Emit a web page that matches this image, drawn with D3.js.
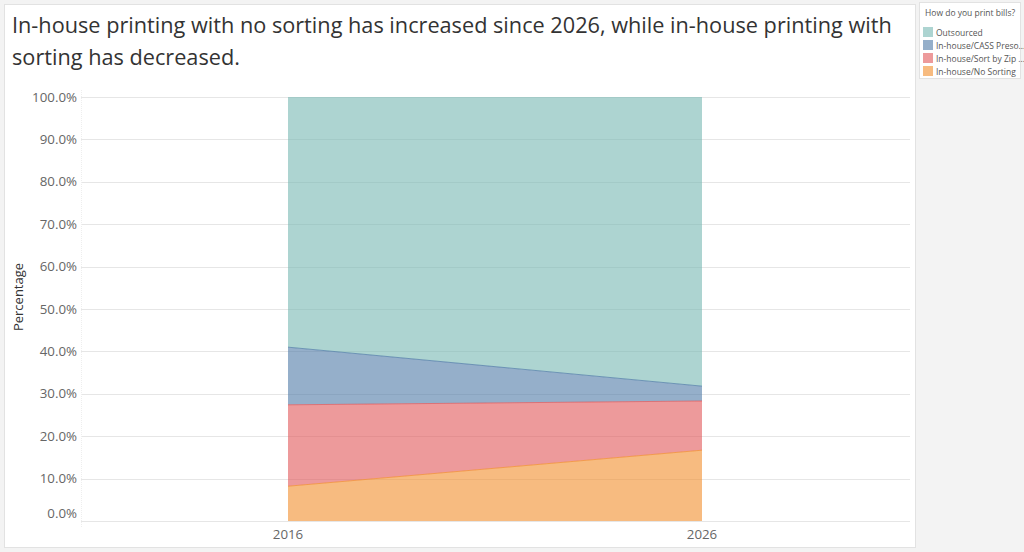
<!DOCTYPE html>
<html>
<head>
<meta charset="utf-8">
<script src="https://cdn.jsdelivr.net/npm/d3@7"></script>
<style>
  body { margin: 0; background: #f3f3f3; }
  svg { display: block; }
</style>
</head>
<body>
<div id="chart"></div>
<script>
// size of the page
var width = 1024
var height = 552

// data (percent of respondents)
var years = ["2016", "2026"]
var categories = ["In-house/No Sorting", "In-house/Sort by Zip Code", "In-house/CASS Presort", "Outsourced"]
var legendLabels = ["Outsourced", "In-house/CASS Preso...", "In-house/Sort by Zip ...", "In-house/No Sorting"]
var noSorting = [8.2, 16.7]
var sortByZip = [19.2, 11.6]
var cassPresort = [13.6, 3.5]
var outsourced = [59.0, 68.2]
var yTicks = [0, 10, 20, 30, 40, 50, 60, 70, 80, 90, 100]

var colors = {
  "Outsourced": "#76b7b2",
  "In-house/CASS Presort": "#4e79a7",
  "In-house/Sort by Zip Code": "#e15759",
  "In-house/No Sorting": "#f28e2b"
}

// build rows for the stack
var rows = years.map(function(y, i) {
  return {
    year: y,
    "In-house/No Sorting": noSorting[i],
    "In-house/Sort by Zip Code": sortByZip[i],
    "In-house/CASS Presort": cassPresort[i],
    "Outsourced": outsourced[i]
  }
})

var svg = d3.select("#chart")
  .append("svg")
  .attr("width", width)
  .attr("height", height)

// white panel for the sheet
svg.append("rect")
  .attr("x", 4.5).attr("y", 4.5)
  .attr("width", 911).attr("height", 543)
  .attr("fill", "#fff")
  .attr("stroke", "#e2e2e2")

// title
var font = "'Open Sans', sans-serif"
svg.append("text")
  .attr("x", 12).attr("y", 33)
  .text("In-house printing with no sorting has increased since 2026, while in-house printing with")
  .attr("font-family", font)
  .attr("font-size", "21.7px")
  .attr("fill", "#333")
svg.append("text")
  .attr("x", 12).attr("y", 65)
  .text("sorting has decreased.")
  .attr("font-family", font)
  .attr("font-size", "21.7px")
  .attr("fill", "#333")

// scales
var x = d3.scalePoint()
  .domain(years)
  .range([81, 909])
  .padding(0.5)

var y = d3.scaleLinear()
  .domain([0, 100])
  .range([521, 97])

// gridlines
svg.append("g")
  .selectAll("line")
  .data(yTicks)
  .enter()
  .append("line")
  .attr("x1", 81).attr("x2", 910)
  .attr("y1", function(d) { return Math.round(y(d)) + 0.5 })
  .attr("y2", function(d) { return Math.round(y(d)) + 0.5 })
  .attr("stroke", "#e6e6e6")

// y axis line (dotted, faint)
svg.append("line")
  .attr("x1", 81.5).attr("x2", 81.5)
  .attr("y1", 90).attr("y2", 528)
  .attr("stroke", "#eee")
  .attr("stroke-dasharray", "1,1")

// y tick labels
svg.append("g")
  .selectAll("text")
  .data(yTicks)
  .enter()
  .append("text")
  .attr("x", 77)
  .attr("y", function(d) { return d == 0 ? y(d) - 8 : y(d) })
  .attr("dy", "0.35em")
  .attr("text-anchor", "end")
  .text(function(d) { return d.toFixed(1) + "%" })
  .attr("font-family", font)
  .attr("font-size", "13.3px")
  .attr("fill", "#666")

// y axis title
svg.append("text")
  .attr("transform", "translate(23,297) rotate(-90)")
  .attr("text-anchor", "middle")
  .text("Percentage")
  .attr("font-family", font)
  .attr("font-size", "13px")
  .attr("fill", "#333")

// stacked areas
var stack = d3.stack().keys(categories)
var series = stack(rows)

var area = d3.area()
  .x(function(d) { return x(d.data.year) })
  .y0(function(d) { return y(d[0]) })
  .y1(function(d) { return y(d[1]) })

var line = d3.line()
  .x(function(d) { return x(d.data.year) })
  .y(function(d) { return y(d[1]) })

svg.append("g")
  .selectAll("path")
  .data(series)
  .enter()
  .append("path")
  .attr("d", area)
  .attr("fill", function(d) { return colors[d.key] })
  .attr("fill-opacity", 0.6)

svg.append("g")
  .selectAll("path")
  .data(series.slice(0, 3))
  .enter()
  .append("path")
  .attr("d", line)
  .attr("fill", "none")
  .attr("stroke", function(d) { return colors[d.key] })
  .attr("stroke-opacity", 0.7)
  .attr("stroke-width", 1)

// x axis line
svg.append("line")
  .attr("x1", 81).attr("x2", 910)
  .attr("y1", 521.5).attr("y2", 521.5)
  .attr("stroke", "#e6e6e6")

// x tick labels
svg.append("g")
  .selectAll("text")
  .data(years)
  .enter()
  .append("text")
  .attr("x", function(d) { return x(d) })
  .attr("y", 539)
  .attr("text-anchor", "middle")
  .text(function(d) { return d })
  .attr("font-family", font)
  .attr("font-size", "13.3px")
  .attr("fill", "#666")

// legend panel
var legend = svg.append("g")
legend.append("rect")
  .attr("x", 919.5).attr("y", 2.5)
  .attr("width", 101).attr("height", 76)
  .attr("fill", "#fff")
  .attr("stroke", "#e2e2e2")
legend.append("text")
  .attr("x", 925).attr("y", 16)
  .text("How do you print bills?")
  .attr("font-family", font)
  .attr("font-size", "8.5px")
  .attr("fill", "#555")

var legendKeys = ["Outsourced", "In-house/CASS Presort", "In-house/Sort by Zip Code", "In-house/No Sorting"]
legend.selectAll(".sw")
  .data(legendKeys)
  .enter()
  .append("rect")
  .attr("x", 923)
  .attr("y", function(d, i) { return 27 + i * 13 })
  .attr("width", 10).attr("height", 10)
  .attr("fill", function(d) { return colors[d] })
  .attr("fill-opacity", 0.6)
legend.selectAll(".lab")
  .data(legendLabels)
  .enter()
  .append("text")
  .attr("x", 936)
  .attr("y", function(d, i) { return 35.5 + i * 13 })
  .text(function(d) { return d })
  .attr("font-family", font)
  .attr("font-size", "8.5px")
  .attr("fill", "#555")
</script>
</body>
</html>
